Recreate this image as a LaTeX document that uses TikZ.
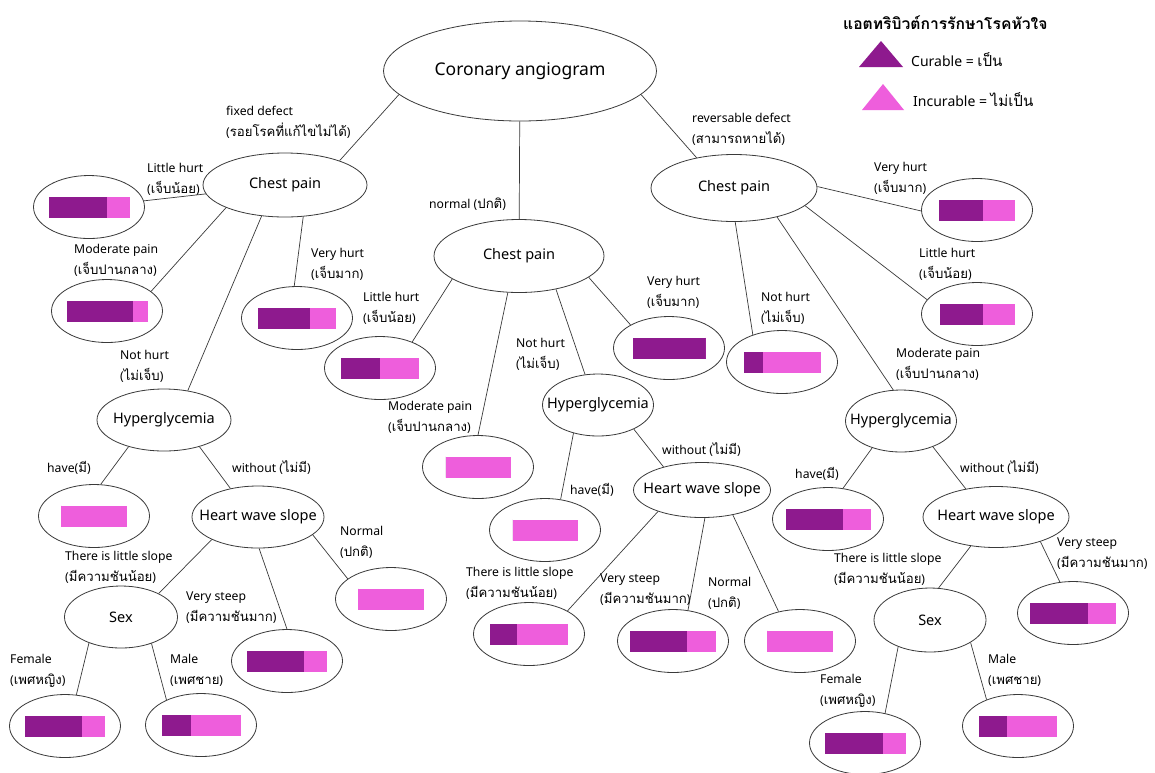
\documentclass[tikz,border=0pt]{standalone}
\usepackage{fontspec}
\setmainfont{Noto Sans}
\newfontfamily\thaifont[Script=Thai,Scale=1.08]{Loma}
\newcommand\tha[1]{{\thaifont #1}}
\newcommand\nodetext[1]{\makebox[0pt]{#1}}
\usetikzlibrary{calc,shapes.geometric}
\definecolor{curable}{HTML}{8E1A8E}
\definecolor{incurable}{HTML}{EE5EDC}
\definecolor{linegray}{HTML}{3A3A3A}
\tikzset{
  attr/.style={ellipse, draw=linegray, line width=0.8pt, inner sep=0pt, font=\fontsize{14.5}{16}\selectfont},
  leaf/.style={ellipse, draw=linegray, line width=0.8pt, inner sep=0pt, minimum width=111pt, minimum height=63pt},
  lbl/.style={anchor=west, align=left, inner sep=0pt, font=\fontsize{12.2}{21}\selectfont},
  link/.style={draw=linegray, line width=0.7pt}
}
\newcommand\leafbar[3]{%
  \fill[curable] ($(#1)+(-#2/2-#3/2,-10.5)$) rectangle ++(#2,21);
  \fill[incurable] ($(#1)+(#2/2-#3/2,-10.5)$) rectangle ++(#3,21);
}
\begin{document}
\begin{tikzpicture}[x=1pt,y=-1pt]
\fill[white] (0,0) rectangle (1155,772);
\useasboundingbox (0,0) rectangle (1155,772);

\node[attr, minimum width=273pt, minimum height=100pt, font=\fontsize{17.5}{20}\selectfont] (co) at (520,71) {\nodetext{Coronary angiogram}};
\node[attr, minimum width=164pt, minimum height=64pt] (lc) at (285,185) {\nodetext{Chest pain}};
\node[attr, minimum width=170pt, minimum height=73pt] (mc) at (519,256) {\nodetext{Chest pain}};
\node[attr, minimum width=166pt, minimum height=67pt] (rc) at (734,188) {\nodetext{Chest pain}};
\node[attr, minimum width=134pt, minimum height=62pt] (lh) at (164,420) {\nodetext{Hyperglycemia}};
\node[attr, minimum width=111pt, minimum height=62pt] (mh) at (598,405) {\nodetext{Hyperglycemia}};
\node[attr, minimum width=111pt, minimum height=62pt] (rh) at (901,421) {\nodetext{Hyperglycemia}};
\node[attr, minimum width=132pt, minimum height=62pt] (ls) at (258,517) {\nodetext{Heart wave slope}};
\node[attr, minimum width=137pt, minimum height=55pt] (ms) at (702,490) {\nodetext{Heart wave slope}};
\node[attr, minimum width=146pt, minimum height=61pt] (rs) at (996,517) {\nodetext{Heart wave slope}};
\node[attr, minimum width=113pt, minimum height=62pt] (lx) at (121,617) {\nodetext{Sex}};
\node[attr, minimum width=112pt, minimum height=64pt] (rx) at (930,620) {\nodetext{Sex}};

\node[leaf] (ll) at (89,207) {};
\node[leaf] (lm) at (107,311) {};
\node[leaf] (lv) at (297,318) {};
\node[leaf] (lhh) at (94,516) {};
\node[leaf] (lss) at (287,661) {};
\node[leaf] (lsn) at (391,599) {};
\node[leaf] (lxf) at (65,726) {};
\node[leaf] (lxm) at (201,725) {};
\node[leaf] (mcl) at (380,368) {};
\node[leaf] (mcm) at (478,467) {};
\node[leaf] (mcv) at (669,348) {};
\node[leaf] (mhh) at (545,530) {};
\node[leaf] (msl) at (529,634) {};
\node[leaf] (mss) at (673,641) {};
\node[leaf] (msn) at (800,641) {};
\node[leaf] (rcv) at (977,210) {};
\node[leaf] (rcl) at (977,314) {};
\node[leaf] (rcn) at (782,362) {};
\node[leaf] (rhh) at (828,519) {};
\node[leaf] (rss) at (1073,613) {};
\node[leaf] (rxf) at (865,743) {};
\node[leaf] (rxm) at (1018,726) {};

\leafbar{ll}{58}{23}
\leafbar{lm}{66}{15}
\leafbar{lv}{52}{26}
\leafbar{lhh}{0}{66}
\leafbar{lss}{57}{23}
\leafbar{lsn}{0}{66}
\leafbar{lxf}{57}{23}
\leafbar{lxm}{29}{50}
\leafbar{mcl}{39}{39}
\leafbar{mcm}{0}{65}
\leafbar{mcv}{73}{0}
\leafbar{mhh}{0}{65}
\leafbar{msl}{27}{51}
\leafbar{mss}{57}{29}
\leafbar{msn}{0}{66}
\leafbar{rcv}{44}{32}
\leafbar{rcl}{43}{32}
\leafbar{rcn}{19}{58}
\leafbar{rhh}{57}{28}
\leafbar{rss}{58}{28}
\leafbar{rxf}{58}{23}
\leafbar{rxm}{28}{50}

\draw[link] (co.191.5) -- (lc.24);
\draw[link] (co) -- (mc);
\draw[link] (co.-11.4) -- (rc.141.5);
\draw[link] (lc) -- (ll);
\draw[link] (lc.201.6) -- (lm.24);
\draw[link] (lc.-60.6) -- (lv.95);
\draw[link] (lc.233.4) -- (lh.51);
\draw[link] (lh.217) -- (lhh.78);
\draw[link] (lh.-37) -- (ls.134);
\draw[link] (ls.206.6) -- (lx.32.4);
\draw[link] (ls.-88) -- (lss.90);
\draw[link] (ls.-18) -- (lsn.155);
\draw[link] (lx.219) -- (lxf.70.5);
\draw[link] (lx.-41) -- (lxm.144);
\draw[link] (mc.199) -- (mcl.39);
\draw[link] (mc.253) -- (mcm.90);
\draw[link] (mc.-42.6) -- (mh.113);
\draw[link] (mc.-17) -- (mcv.149.5);
\draw[link] (mh.229.6) -- (mhh.63.4);
\draw[link] (mh.-34) -- (ms.149);
\draw[link] (ms.206) -- (msl.31.6);
\draw[link] (ms.-84) -- (mss.64);
\draw[link] (ms.-39) -- (msn.126.6);
\draw[link] (rc.1.4) -- (rcv.181);
\draw[link] (rc.-14.4) -- (rcl.164);
\draw[link] (rc.-88) -- (rcn.137);
\draw[link] (rc.-34) -- (rh.104.5);
\draw[link] (rh.223) -- (rhh.64);
\draw[link] (rh.-39) -- (rs.137);
\draw[link] (rs.229) -- (rx.75);
\draw[link] (rs.-29.6) -- (rss.113);
\draw[link] (rx.220) -- (rxf.56);
\draw[link] (rx.-29) -- (rxm.140);

\node[lbl] (fd) at (226,122) {fixed defect\\(\tha{รอยโรคที่แก้ไขไม่ได้})};
\node[lbl] (rd) at (692,129) {reversable defect\\(\tha{สามารถหายได้})};
\node[lbl] (nm) at (429,204) {normal (\tha{ปกติ})};
\node[lbl] (lcl) at (147,179) {Little hurt\\(\tha{เจ็บน้อย})};
\node[lbl] (lcm) at (74,260) {Moderate pain\\(\tha{เจ็บปานกลาง})};
\node[lbl] (lcv) at (311,264) {Very hurt\\(\tha{เจ็บมาก})};
\node[lbl] (lcn) at (120,366) {Not hurt\\(\tha{ไม่เจ็บ})};
\node[lbl] (lhy) at (47,468) {have(\tha{มี})};
\node[lbl] (lhw) at (232,468) {without (\tha{ไม่มี})};
\node[lbl] (lsl) at (65,567) {There is little slope\\(\tha{มีความชันน้อย})};
\node[lbl] (lsr) at (340,542) {Normal\\(\tha{ปกติ})};
\node[lbl] (lsv) at (186,608) {Very steep\\(\tha{มีความชันมาก})};
\node[lbl] (lxa) at (10,671) {Female\\(\tha{เพศหญิง})};
\node[lbl] (lxb) at (170,670) {Male\\(\tha{เพศชาย})};
\node[lbl] (mcll) at (363,308) {Little hurt\\(\tha{เจ็บน้อย})};
\node[lbl] (mcml) at (388,417) {Moderate pain\\(\tha{เจ็บปานกลาง})};
\node[lbl] (mcnl) at (516,354) {Not hurt\\(\tha{ไม่เจ็บ})};
\node[lbl] (mcvl) at (647,292) {Very hurt\\(\tha{เจ็บมาก})};
\node[lbl] (mhy) at (570,490) {have(\tha{มี})};
\node[lbl] (mhw) at (662,450) {without (\tha{ไม่มี})};
\node[lbl] (msll) at (466,583) {There is little slope\\(\tha{มีความชันน้อย})};
\node[lbl] (msvl) at (600,590) {Very steep\\(\tha{มีความชันมาก})};
\node[lbl] (msnl) at (708,593) {Normal\\(\tha{ปกติ})};
\node[lbl] (rcvl) at (874,178) {Very hurt\\(\tha{เจ็บมาก})};
\node[lbl] (rcll) at (919,264) {Little hurt\\(\tha{เจ็บน้อย})};
\node[lbl] (rcnl) at (761,308) {Not hurt\\(\tha{ไม่เจ็บ})};
\node[lbl] (rcml) at (896,364) {Moderate pain\\(\tha{เจ็บปานกลาง})};
\node[lbl] (rhy) at (795,474) {have(\tha{มี})};
\node[lbl] (rhw) at (960,468) {without (\tha{ไม่มี})};
\node[lbl] (rsll) at (834,569) {There is little slope\\(\tha{มีความชันน้อย})};
\node[lbl] (rsvl) at (1057,554) {Very steep\\(\tha{มีความชันมาก})};
\node[lbl] (rxa) at (820,691) {Female\\(\tha{เพศหญิง})};
\node[lbl] (rxb) at (988,670) {Male\\(\tha{เพศชาย})};

\node[lbl, font=\fontsize{14.5}{16}\selectfont\thaifont\bfseries] (key) at (843,23) {แอตทริบิวต์การรักษาโรคหัวใจ};
\fill[curable] (859,67) -- (903,67) -- (881,41) -- cycle;
\fill[incurable] (862,110) -- (904,110) -- (883,84) -- cycle;
\node[lbl, font=\fontsize{14}{16}\selectfont] (kc) at (911,60) {Curable = \tha{เป็น}};
\node[lbl, font=\fontsize{14}{16}\selectfont] (ki) at (913,100) {Incurable = \tha{ไม่เป็น}};
\end{tikzpicture}
\end{document}
